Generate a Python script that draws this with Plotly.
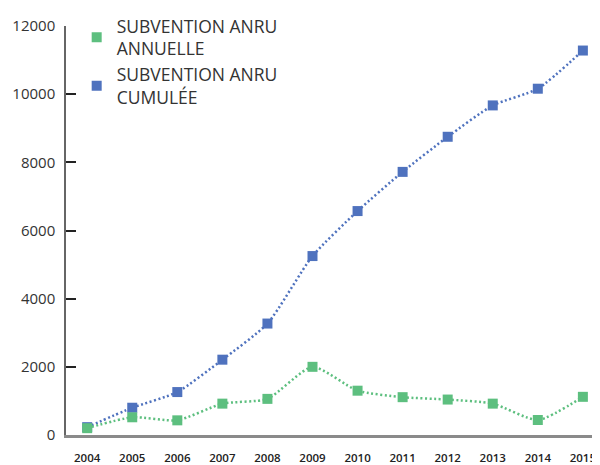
import plotly.graph_objects as go

years = ["2004", "2005", "2006", "2007", "2008", "2009", "2010", "2011", "2012", "2013", "2014", "2015"]
annuelle = [200, 520, 430, 920, 1060, 2000, 1300, 1110, 1040, 920, 440, 1120]
cumulee = [230, 800, 1260, 2210, 3270, 5250, 6570, 7720, 8750, 9670, 10160, 11280]
y_ticks = [0, 2000, 4000, 6000, 8000, 10000, 12000]
series_names = ["SUBVENTION ANRU<br>ANNUELLE", "SUBVENTION ANRU<br>CUMULÉE"]

GREEN = "#5DBF7F"
BLUE = "#4F72BE"
FONT = "Open Sans, sans-serif"

fig = go.Figure()
# cumulative drawn first so annual markers sit on top (as in 2004)
for vals, col in [(cumulee, BLUE), (annuelle, GREEN)]:
    fig.add_trace(go.Scatter(
        x=years, y=vals, mode="lines+markers", showlegend=False,
        line=dict(color=col, width=2.5, dash="2px,2.5px", shape="spline", smoothing=0.6),
        marker=dict(symbol="square", size=10, color=col),
    ))
for name, col in zip(series_names, [GREEN, BLUE]):
    fig.add_trace(go.Scatter(
        x=[None], y=[None], mode="markers", name=name,
        marker=dict(symbol="square", size=10, color=col),
    ))

# page body has an 8px margin, so the figure is drawn 8px right and down
fig.update_layout(
    width=592, height=457,
    margin=dict(l=58, r=0, t=9, b=30),
    plot_bgcolor="white", paper_bgcolor="white",
    font=dict(family=FONT, color="#333333"),
    showlegend=True,
    legend=dict(x=0.02, y=1.045, xanchor="left", yanchor="top",
                font=dict(size=17.5, color="#333333", family=FONT),
                bgcolor="rgba(0,0,0,0)", itemwidth=30),
    xaxis=dict(
        type="category", range=[-0.47, 11.38], automargin=False,
        showline=True, linecolor="#8a8a8a", linewidth=2.5,
        showgrid=False, ticks="",
        tickfont=dict(size=11.5, color="#222222", family=FONT, weight=600),
        ticklabelstandoff=10,
    ),
    yaxis=dict(
        range=[0, 12000], tickvals=y_ticks, ticktext=[str(v) for v in y_ticks],
        automargin=False,
        showline=True, linecolor="#666666", linewidth=1.5,
        showgrid=False, zeroline=False,
        ticks="inside", ticklen=10, tickwidth=1.5, tickcolor="#222222",
        tickfont=dict(size=15, color="#333333", family=FONT),
        ticklabelstandoff=6,
    ),
)

fig.write_html("out.html")
